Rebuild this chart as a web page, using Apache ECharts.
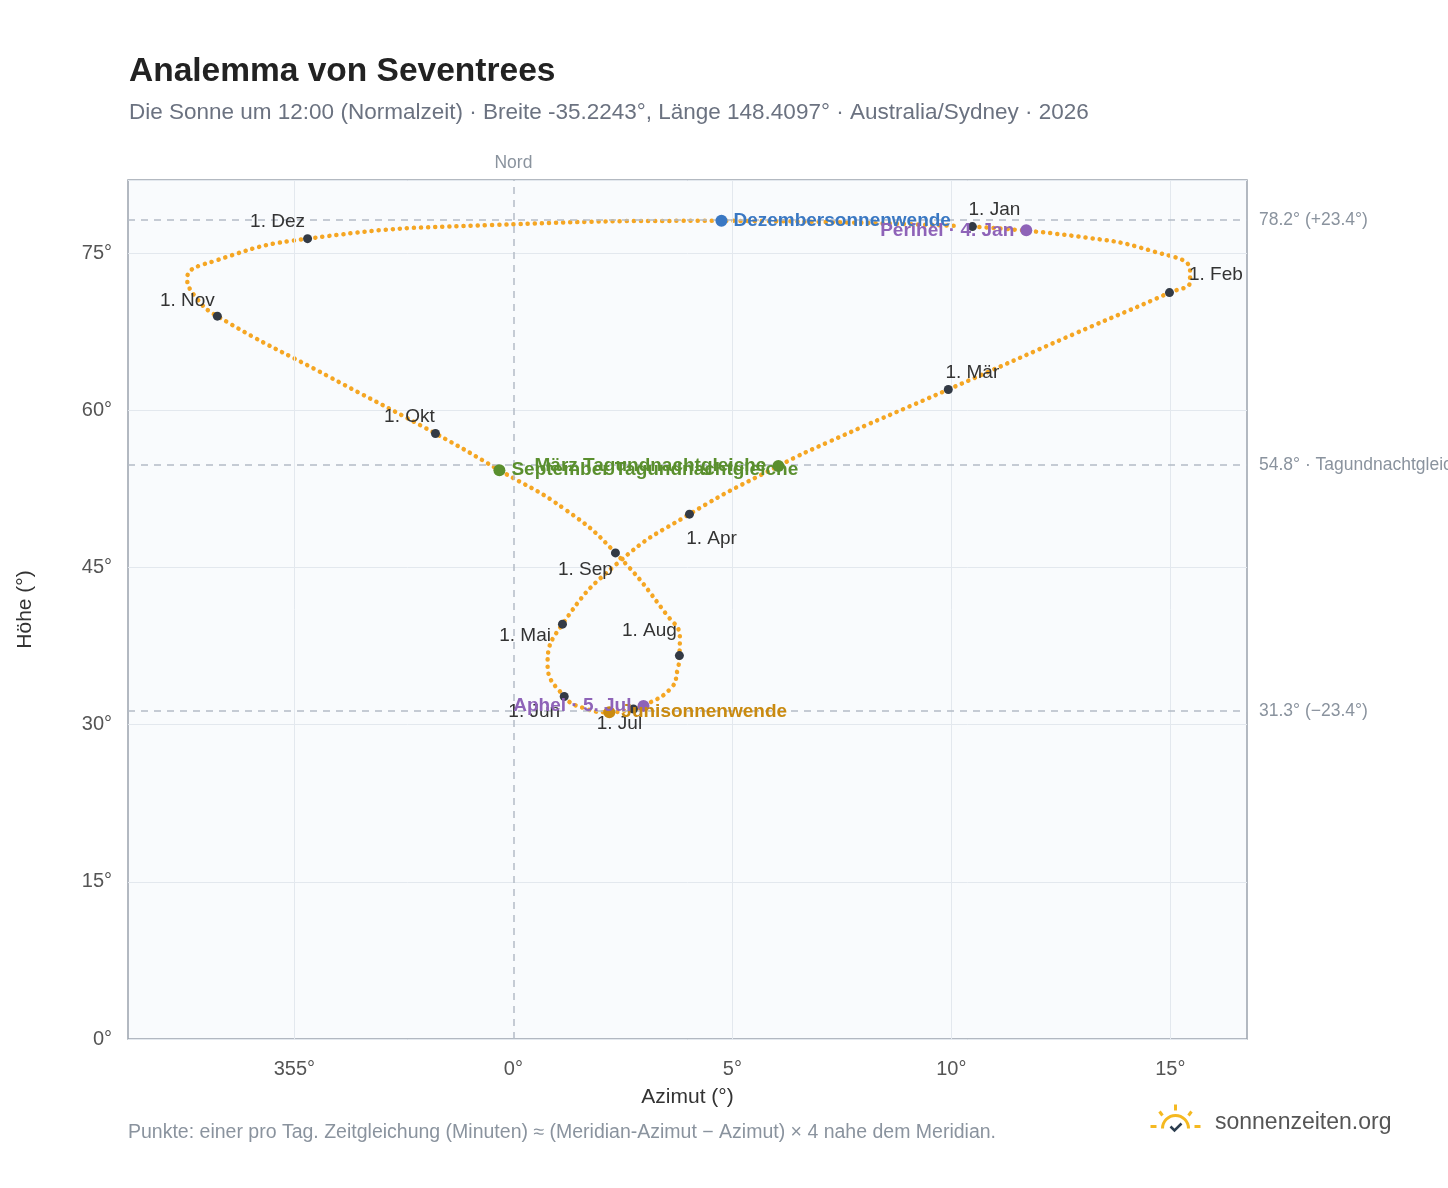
<!DOCTYPE html>
<html>
<head>
<meta charset="utf-8">
<title>Analemma</title>
<script src="https://cdn.jsdelivr.net/npm/echarts@6/dist/echarts.min.js"></script>
<style>body{margin:0;background:#fff}#chart{width:1448px;height:1188px}</style>
</head>
<body>
<div id="chart"></div>
<script>
// path points: [azimut offset °, höhe °]
var pathDates = ['1.1','8.1','15.1','22.1','27.1','1.2','15.2','1.3','15.3','20.3','1.4','15.4','1.5','15.5','1.6','11.6','21.6','1.7','5.7','15.7','25.7','1.8','8.8','15.8','1.9','12.9','23.9','1.10','15.10','1.11','8.11','14.11','20.11','1.12','10.12','21.12','31.12'];
var pathAz = [10.48,12.9,14.6,15.45,15.45,14.98,12.8,9.93,7.2,6.05,4.02,2.4,1.12,0.78,1.16,1.6,2.19,2.74,2.97,3.6,3.75,3.79,3.8,3.5,2.33,1.2,-0.32,-1.78,-4.2,-6.76,-7.25,-7.45,-6.8,-4.70,-0.5,4.75,10.2];
var pathAlt = [77.55,76.6,75.2,73.4,72.3,71.25,67.3,62.0,57.0,54.7,50.1,45.5,39.6,35.8,32.7,31.6,31.2,31.5,31.8,33.5,35.3,36.6,38.3,40.5,46.4,50.5,54.3,57.8,63.2,69.0,70.8,72.6,74.3,76.4,77.7,78.1,77.6];

var monthNames = ['1. Jan','1. Feb','1. Mär','1. Apr','1. Mai','1. Jun','1. Jul','1. Aug','1. Sep','1. Okt','1. Nov','1. Dez'];
var monthAz = [10.48,14.98,9.93,4.02,1.12,1.16,2.74,3.79,2.33,-1.78,-6.76,-4.70];
var monthAlt = [77.55,71.25,62.0,50.1,39.6,32.7,31.5,36.6,46.4,57.8,69.0,76.4];
var monthPos = ['top','right','top','bottom','left','bottom','bottom','top','bottom','top','top','top'];
var monthOff = [[22,2],[10,-18],[24,2],[22,6],[-2,12],[-30,-4],[-14,-4],[-30,-6],[-30,-2],[-26,2],[-30,4],[-30,2]];

var eventNames = ['Dezembersonnenwende','Perihel · 4. Jan','März Tagundnachtgleiche','September Tagundnachtgleiche','Junisonnenwende','Aphel · 5. Jul'];
var eventAz = [4.75,11.71,6.05,-0.32,2.19,2.97];
var eventAlt = [78.1,77.2,54.7,54.3,31.2,31.8];
var eventColors = ['#3a78c3','#8e63b8','#5a8f2e','#5a8f2e','#c98a10','#8e63b8'];
var eventPos = ['right','left','left','right','right','left'];

var refAlt = [78.2,54.8,31.3];
var refLabels = ['78.2° (+23.4°)','54.8° · Tagundnachtgleiche','31.3° (−23.4°)'];
var xTicks = [-5,0,5,10,15];

var chart = echarts.init(document.getElementById('chart'));
var pathData = pathAz.map(function (a, i) { return [a, pathAlt[i]]; });
var monthData = monthAz.map(function (a, i) {
  return { value: [a, monthAlt[i]], label: { show: true, formatter: monthNames[i], position: monthPos[i], offset: monthOff[i] } };
});
var eventData = eventAz.map(function (a, i) {
  return { value: [a, eventAlt[i]], itemStyle: { color: eventColors[i], opacity: 1 },
    label: { show: true, formatter: eventNames[i], position: eventPos[i], color: eventColors[i], fontWeight: 'bold', fontSize: 19, distance: 6 } };
});
var gridLines = xTicks.filter(function (v) { return v !== 0; }).map(function (v) {
  return { xAxis: v, lineStyle: { color: '#e3e8ee', type: 'solid', width: 1 }, label: { show: false } };
});
var refLines = refAlt.map(function (v, i) {
  return { yAxis: v, label: { show: true, position: 'end', formatter: refLabels[i], color: '#8a939e', fontSize: 17.5, distance: 12 } };
});
refLines.push({ xAxis: 0, label: { show: true, position: 'end', formatter: 'Nord', color: '#8a939e', fontSize: 17.5, distance: 8 } });

chart.setOption({
  backgroundColor: '#fff',
  textStyle: { fontFamily: 'Liberation Sans, Arial, sans-serif' },
  title: {
    left: 124, top: 50, text: 'Analemma von Seventrees',
    subtext: 'Die Sonne um 12:00 (Normalzeit) · Breite -35.2243°, Länge 148.4097° · Australia/Sydney · 2026',
    itemGap: 12,
    textStyle: { fontSize: 33.5, fontWeight: 'bold', color: '#222' },
    subtextStyle: { fontSize: 22.5, color: '#6b7280' }
  },
  grid: { left: 128, right: 201, top: 180, bottom: 149, show: true, backgroundColor: '#f9fbfd', borderColor: '#9aa3ad', borderWidth: 1.5 },
  xAxis: {
    type: 'value', min: -8.8, max: 16.75,
    name: 'Azimut (°)', nameLocation: 'middle', nameGap: 48, nameTextStyle: { fontSize: 21, color: '#333' },
    axisLine: { show: false }, splitLine: { show: false },
    axisTick: { show: false },
    axisLabel: { customValues: xTicks, fontSize: 20, color: '#555', margin: 20,
      formatter: function (v) { return (v < 0 ? v + 360 : v) + '°'; } }
  },
  yAxis: {
    type: 'value', min: 0, max: 82, interval: 15,
    name: 'Höhe (°)', nameLocation: 'middle', nameGap: 92, nameTextStyle: { fontSize: 21, color: '#333' },
    axisLine: { show: false }, axisTick: { show: false },
    splitLine: { lineStyle: { color: '#e3e8ee' } },
    axisLabel: { fontSize: 20, color: '#555', margin: 16, showMaxLabel: false, formatter: '{value}°' }
  },
  series: [
    { type: 'line', data: [], silent: true,
      markLine: { symbol: 'none', silent: true, data: gridLines } },
    { type: 'line', data: [], silent: true,
      markLine: { symbol: 'none', silent: true, lineStyle: { color: '#b4bcc6', type: [7, 6], width: 1.5 }, data: refLines } },
    { type: 'line', data: pathData, smooth: 0.5, showSymbol: false, silent: true, z: 2,
      lineStyle: { color: '#f5a623', width: 4.5, type: [0.1, 7], cap: 'round' } },
    { type: 'scatter', data: monthData, symbolSize: 9, z: 5, itemStyle: { color: '#333a45', opacity: 1 },
      label: { color: '#333', fontSize: 19 } },
    { type: 'scatter', data: eventData, symbolSize: 12, z: 6 }
  ],
  graphic: [
    { type: 'text', left: 128, top: 1123, style: { text: 'Punkte: einer pro Tag. Zeitgleichung (Minuten) ≈ (Meridian-Azimut − Azimut) × 4 nahe dem Meridian.', fill: '#8a939e', fontSize: 19.5 } },
    { type: 'text', left: 1215, top: 1111, style: { text: 'sonnenzeiten.org', fill: '#555', fontSize: 23 } },
    { type: 'group', left: 1148, top: 1102, children: [
      { type: 'arc', shape: { cx: 25, cy: 26, r: 13, startAngle: Math.PI, endAngle: 2 * Math.PI }, style: { stroke: '#f5b921', lineWidth: 3, fill: null } },
      { type: 'line', shape: { x1: 25, y1: 2, x2: 25, y2: 8 }, style: { stroke: '#f5b921', lineWidth: 3 } },
      { type: 'line', shape: { x1: 9, y1: 9, x2: 12, y2: 13 }, style: { stroke: '#f5b921', lineWidth: 3 } },
      { type: 'line', shape: { x1: 41, y1: 9, x2: 38, y2: 13 }, style: { stroke: '#f5b921', lineWidth: 3 } },
      { type: 'line', shape: { x1: 0, y1: 24, x2: 6, y2: 24 }, style: { stroke: '#f5b921', lineWidth: 3 } },
      { type: 'line', shape: { x1: 44, y1: 24, x2: 50, y2: 24 }, style: { stroke: '#f5b921', lineWidth: 3 } },
      { type: 'polyline', shape: { points: [[20, 24], [24, 28], [31, 21]] }, style: { stroke: '#2d3e50', lineWidth: 2.5, fill: null } }
    ] }
  ]
});
</script>
</body>
</html>
